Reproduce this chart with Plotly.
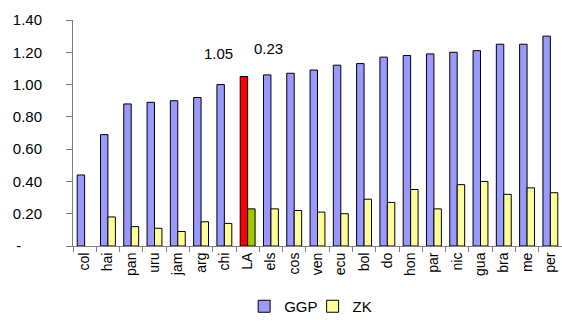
import plotly.graph_objects as go

countries = ['col', 'hai', 'pan', 'uru', 'jam', 'arg', 'chi', 'LA', 'els', 'cos', 'ven',
             'ecu', 'bol', 'do', 'hon', 'par', 'nic', 'gua', 'bra', 'me', 'per']
ggp = [0.44, 0.69, 0.88, 0.89, 0.90, 0.92, 1.00, 1.05, 1.06, 1.07, 1.09,
       1.12, 1.13, 1.17, 1.18, 1.19, 1.20, 1.21, 1.25, 1.25, 1.30]
zk = [None, 0.18, 0.12, 0.11, 0.09, 0.15, 0.14, 0.23, 0.23, 0.22, 0.21,
      0.20, 0.29, 0.27, 0.35, 0.23, 0.38, 0.40, 0.32, 0.36, 0.33]
y_ticks = [0, 0.2, 0.4, 0.6, 0.8, 1.0, 1.2, 1.4]
y_labels = ['-\u00a0\u00a0\u00a0\u00a0\u00a0', '0.20', '0.40', '0.60', '0.80', '1.00', '1.20', '1.40']

# LA (the regional average) is highlighted
ggp_colors = ['#FF0000' if c == 'LA' else '#9999FF' for c in countries]
zk_colors = ['#99CC00' if c == 'LA' else '#FFFF99' for c in countries]

fig = go.Figure()
fig.add_trace(go.Bar(x=countries, y=ggp, name='GGP', legend='legend',
                     marker=dict(color=ggp_colors, line=dict(color='black', width=1))))
fig.add_trace(go.Bar(x=countries, y=zk, name='ZK', legend='legend2',
                     marker=dict(color=zk_colors, line=dict(color='black', width=1))))

fig.add_annotation(x='chi', y=1.195, xref='x', yref='y', text='1.05', showarrow=False,
                   xshift=-6, font=dict(size=15, color='black'))
fig.add_annotation(x='els', y=1.225, xref='x', yref='y', text='0.23', showarrow=False,
                   xshift=-2, font=dict(size=15, color='black'))

# two small legends so the entries sit close together like the original
leg = dict(orientation='h', xanchor='left', y=-0.195, yanchor='top',
           font=dict(size=15), itemwidth=30, bgcolor='rgba(0,0,0,0)')

fig.update_layout(
    width=562, height=323,
    margin=dict(l=73, r=0, t=20, b=77),
    paper_bgcolor='white', plot_bgcolor='white',
    font=dict(family='Liberation Sans, Arial', size=14, color='black'),
    barmode='group', bargap=0.36, bargroupgap=0,
    showlegend=True,
    legend=dict(leg, x=0.35),
    legend2=dict(leg, x=0.49),
    xaxis=dict(showline=True, linecolor='#808080', linewidth=1, ticks='outside',
               tickson='boundaries', ticklen=5, tickcolor='#808080', tickangle=-90,
               showgrid=False, tickfont=dict(size=14), automargin=False),
    yaxis=dict(range=[0, 1.4], tickvals=y_ticks, ticktext=y_labels, showline=True,
               linecolor='#808080', linewidth=1, ticks='outside', ticklen=6,
               tickcolor='#808080', showgrid=False, zeroline=False,
               ticklabelstandoff=21, tickfont=dict(size=15), automargin=False),
)

# drop the browser's default body margin so the figure sits at the window's corner
fig.write_html('out.html', config={'displayModeBar': False},
               post_script="document.body.style.margin='0';")
